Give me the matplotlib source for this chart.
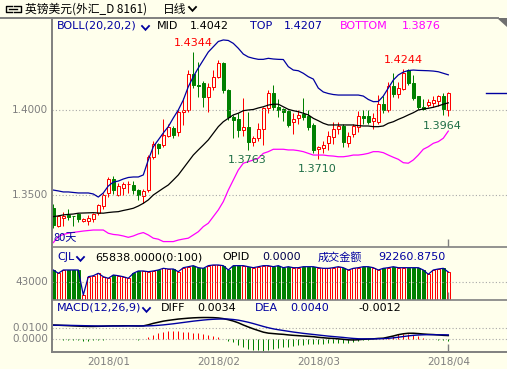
import matplotlib
matplotlib.use("Agg")
import matplotlib.pyplot as plt
from matplotlib.patches import Rectangle, Polygon
from matplotlib.lines import Line2D
import matplotlib.transforms as mtrans
import numpy as np

# ---------------- data ----------------
opens = [1.3422, 1.3318, 1.3362, 1.3385, 1.3375, 1.3388, 1.3350, 1.3350, 1.3358, 1.3392,
         1.3437, 1.3510, 1.3592, 1.3500, 1.3543, 1.3562, 1.3558, 1.3530, 1.3495, 1.3529,
         1.3725, 1.3800, 1.3794, 1.3850, 1.3896, 1.3872, 1.3986, 1.4000, 1.4212, 1.4150,
         1.4157, 1.4078, 1.4137, 1.4196, 1.4275, 1.4118, 1.3961, 1.3950, 1.3882, 1.3902,
         1.3814, 1.3834, 1.3886, 1.4010, 1.4098, 1.4020, 1.4004, 1.3994, 1.3928, 1.3951,
         1.3975, 1.3965, 1.3912, 1.3772, 1.3775, 1.3804, 1.3843, 1.3886, 1.3906, 1.3808,
         1.3859, 1.3902, 1.3965, 1.3965, 1.3937, 1.3930, 1.4035, 1.4000, 1.4141, 1.4094,
         1.4125, 1.4235, 1.4157, 1.4082, 1.4015, 1.4030, 1.4040, 1.4055, 1.4082, 1.4002]
highs = [1.3447, 1.3385, 1.3400, 1.3420, 1.3378, 1.3395, 1.3365, 1.3380, 1.3395, 1.3450,
         1.3510, 1.3605, 1.3610, 1.3570, 1.3575, 1.3580, 1.3580, 1.3535, 1.3535, 1.3735,
         1.3815, 1.3805, 1.3945, 1.3916, 1.3905, 1.4000, 1.4069, 1.4237, 1.4344, 1.4284,
         1.4170, 1.4160, 1.4235, 1.4295, 1.4280, 1.4125, 1.3970, 1.3980, 1.4069, 1.3990,
         1.3850, 1.3925, 1.4020, 1.4115, 1.4147, 1.4065, 1.4010, 1.4000, 1.3984, 1.4000,
         1.4069, 1.4000, 1.3925, 1.3786, 1.3818, 1.3876, 1.3931, 1.3930, 1.3915, 1.3870,
         1.3920, 1.3996, 1.4000, 1.4000, 1.3980, 1.4088, 1.4085, 1.4165, 1.4219, 1.4165,
         1.4244, 1.4243, 1.4206, 1.4085, 1.4063, 1.4065, 1.4080, 1.4090, 1.4102, 1.4106]
lows = [1.3304, 1.3312, 1.3318, 1.3355, 1.3318, 1.3340, 1.3342, 1.3325, 1.3340, 1.3385,
        1.3420, 1.3490, 1.3505, 1.3495, 1.3500, 1.3510, 1.3504, 1.3470, 1.3455, 1.3520,
        1.3710, 1.3741, 1.3780, 1.3840, 1.3835, 1.3850, 1.3912, 1.3990, 1.4128, 1.4078,
        1.4015, 1.3990, 1.4117, 1.4186, 1.4098, 1.3941, 1.3833, 1.3840, 1.3845, 1.3763,
        1.3790, 1.3818, 1.3794, 1.3984, 1.4000, 1.3957, 1.3937, 1.3902, 1.3859, 1.3920,
        1.3940, 1.3882, 1.3745, 1.3710, 1.3745, 1.3765, 1.3800, 1.3859, 1.3780, 1.3780,
        1.3840, 1.3872, 1.3918, 1.3920, 1.3886, 1.3920, 1.3980, 1.3990, 1.4078, 1.4070,
        1.4120, 1.4150, 1.4060, 1.4005, 1.4000, 1.4015, 1.4020, 1.4025, 1.3970, 1.3964]
closes = [1.3324, 1.3376, 1.3378, 1.3370, 1.3374, 1.3357, 1.3360, 1.3362, 1.3390, 1.3440,
          1.3500, 1.3594, 1.3529, 1.3553, 1.3563, 1.3567, 1.3529, 1.3500, 1.3522, 1.3725,
          1.3800, 1.3775, 1.3850, 1.3900, 1.3853, 1.3990, 1.4000, 1.4210, 1.4147, 1.4140,
          1.4078, 1.4137, 1.4196, 1.4275, 1.4118, 1.3961, 1.3940, 1.3882, 1.3898, 1.3814,
          1.3833, 1.3886, 1.4010, 1.4102, 1.4020, 1.4000, 1.3990, 1.3912, 1.3947, 1.3970,
          1.3961, 1.3902, 1.3765, 1.3782, 1.3794, 1.3847, 1.3886, 1.3906, 1.3814, 1.3847,
          1.3906, 1.3965, 1.3951, 1.3931, 1.3951, 1.4035, 1.4000, 1.4141, 1.4094, 1.4130,
          1.4215, 1.4160, 1.4069, 1.4016, 1.4008, 1.4049, 1.4059, 1.4082, 1.4004, 1.4098]

boll_top = [1.3529, 1.3524, 1.3518, 1.3518, 1.3515, 1.3512, 1.3512, 1.3512, 1.3506, 1.3488,
            1.3512, 1.3553, 1.3576, 1.3582, 1.3594, 1.3603, 1.3606, 1.3606, 1.3618, 1.3706,
            1.3784, 1.3824, 1.3865, 1.3902, 1.3953, 1.4000, 1.4059, 1.4137, 1.4196, 1.4247,
            1.4294, 1.4341, 1.4372, 1.4403, 1.4412, 1.4409, 1.4392, 1.4363, 1.4329, 1.4312,
            1.4304, 1.4298, 1.4298, 1.4304, 1.4300, 1.4298, 1.4297, 1.4255, 1.4235, 1.4231,
            1.4216, 1.4196, 1.4182, 1.4129, 1.4106, 1.4097, 1.4091, 1.4088, 1.4088, 1.4088,
            1.4088, 1.4088, 1.4082, 1.4062, 1.4049, 1.4050, 1.4082, 1.4129, 1.4176, 1.4206,
            1.4223, 1.4232, 1.4235, 1.4233, 1.4232, 1.4231, 1.4229, 1.4225, 1.4216, 1.4207]
boll_mid = [1.3373, 1.3377, 1.3383, 1.3386, 1.3388, 1.3393, 1.3394, 1.3395, 1.3396, 1.3394,
            1.3393, 1.3397, 1.3400, 1.3402, 1.3409, 1.3415, 1.3422, 1.3435, 1.3451, 1.3471,
            1.3500, 1.3520, 1.3540, 1.3559, 1.3588, 1.3618, 1.3657, 1.3696, 1.3735, 1.3765,
            1.3794, 1.3824, 1.3863, 1.3902, 1.3931, 1.3951, 1.3971, 1.3981, 1.3996, 1.4000,
            1.4003, 1.4012, 1.4019, 1.4029, 1.4034, 1.4034, 1.4019, 1.4004, 1.3996, 1.3990,
            1.3981, 1.3971, 1.3951, 1.3937, 1.3922, 1.3912, 1.3912, 1.3912, 1.3912, 1.3912,
            1.3912, 1.3908, 1.3906, 1.3906, 1.3902, 1.3902, 1.3906, 1.3922, 1.3931, 1.3945,
            1.3957, 1.3971, 1.3984, 1.4000, 1.4006, 1.4010, 1.4016, 1.4024, 1.4034, 1.4042]
boll_bot = [1.3220, 1.3255, 1.3268, 1.3275, 1.3280, 1.3284, 1.3288, 1.3291, 1.3294, 1.3294,
            1.3294, 1.3275, 1.3268, 1.3265, 1.3259, 1.3251, 1.3259, 1.3271, 1.3279, 1.3265,
            1.3246, 1.3240, 1.3226, 1.3226, 1.3226, 1.3235, 1.3241, 1.3246, 1.3265, 1.3284,
            1.3314, 1.3334, 1.3373, 1.3412, 1.3461, 1.3529, 1.3588, 1.3647, 1.3687, 1.3696,
            1.3706, 1.3716, 1.3745, 1.3755, 1.3769, 1.3769, 1.3769, 1.3765, 1.3765, 1.3761,
            1.3755, 1.3745, 1.3735, 1.3735, 1.3735, 1.3731, 1.3729, 1.3725, 1.3725, 1.3729,
            1.3735, 1.3735, 1.3739, 1.3745, 1.3755, 1.3755, 1.3749, 1.3735, 1.3722, 1.3710,
            1.3690, 1.3687, 1.3706, 1.3735, 1.3769, 1.3784, 1.3804, 1.3814, 1.3834, 1.3876]

volume = [70300, 63000, 70300, 70300, 70300, 70300, 14900, 55400, 57600, 63000,
          55400, 51900, 59200, 57600, 55400, 51900, 63000, 68100, 68100, 66500,
          68100, 70300, 74000, 72500, 72500, 66500, 75400, 77600, 79900, 75400,
          74000, 79900, 81400, 81400, 79900, 70300, 79900, 79900, 79900, 77600,
          75400, 77600, 79900, 79900, 77600, 79900, 75400, 77600, 75400, 75400,
          77600, 77600, 77600, 75400, 74000, 74000, 75400, 77600, 75400, 70300,
          74000, 75400, 77600, 77600, 75400, 70300, 74000, 75400, 77600, 75400,
          75400, 75400, 75400, 75400, 70300, 60800, 70300, 72500, 74000, 65838]

diff = [0.0130, 0.0128, 0.0126, 0.0124, 0.0122, 0.0120, 0.0118, 0.0117, 0.0117, 0.0118,
        0.0119, 0.0121, 0.0122, 0.0122, 0.0123, 0.0123, 0.0122, 0.0121, 0.0122, 0.0132,
        0.0145, 0.0155, 0.0165, 0.0172, 0.0178, 0.0184, 0.0188, 0.0192, 0.0195, 0.0197,
        0.0198, 0.0198, 0.0197, 0.0194, 0.0188, 0.0178, 0.0166, 0.0150, 0.0130, 0.0112,
        0.0095, 0.0080, 0.0065, 0.0056, 0.0052, 0.0048, 0.0045, 0.0040, 0.0036, 0.0033,
        0.0030, 0.0027, 0.0024, 0.0018, 0.0014, 0.0010, 0.0008, 0.0004, 0.0000, -0.0005,
        -0.0006, -0.0004, 0.0000, 0.0002, 0.0004, 0.0008, 0.0010, 0.0020, 0.0030, 0.0042,
        0.0050, 0.0055, 0.0055, 0.0052, 0.0048, 0.0045, 0.0043, 0.0040, 0.0036, 0.0034]
dea = [0.0128, 0.0128, 0.0127, 0.0127, 0.0126, 0.0125, 0.0124, 0.0123, 0.0122, 0.0121,
       0.0121, 0.0121, 0.0121, 0.0121, 0.0121, 0.0122, 0.0122, 0.0122, 0.0122, 0.0122,
       0.0124, 0.0127, 0.0131, 0.0136, 0.0141, 0.0147, 0.0153, 0.0159, 0.0165, 0.0170,
       0.0175, 0.0179, 0.0182, 0.0184, 0.0185, 0.0184, 0.0180, 0.0174, 0.0165, 0.0155,
       0.0143, 0.0130, 0.0117, 0.0105, 0.0095, 0.0087, 0.0080, 0.0073, 0.0066, 0.0060,
       0.0054, 0.0049, 0.0044, 0.0039, 0.0034, 0.0029, 0.0025, 0.0021, 0.0017, 0.0012,
       0.0008, 0.0005, 0.0004, 0.0004, 0.0004, 0.0005, 0.0006, 0.0009, 0.0013, 0.0019,
       0.0025, 0.0031, 0.0036, 0.0039, 0.0041, 0.0042, 0.0042, 0.0041, 0.0041, 0.0040]

month_ticks = [11, 33, 53, 79]
month_labels = ["2018/01", "2018/02", "2018/03", "2018/04"]
price_ticks = [1.3500, 1.4000]
vol_ticks = [43000]
macd_ticks = [0.0000, 0.0100]
turnover = 92260.8750
opid = 0.0
title = "英镑美元(外汇_D 8161)"
period = "日线"
hi_marks = [28, 70]
lo_marks = [39, 53, 79]

# ---------------- style ----------------
W, H = 507, 369
BG = '#FFFFEC'
RED = '#FF0000'
GRN = '#008000'
NAVY = '#0000A0'
MAG = '#FF00FF'
GRAY = '#808080'
LBL = '#7F7F7F'
PX = 72.0 / 100.0

plt.rcParams['font.family'] = ['DejaVu Sans', 'Noto Sans CJK SC']
CJK = ['Noto Sans CJK SC', 'DejaVu Sans']

fig = plt.figure(figsize=(W / 100, H / 100), dpi=100, facecolor=BG)


def fx(x):
    return x / W


def fy(y):
    return 1 - y / H


def add_ax(x0, y0, x1, y1):
    ax = fig.add_axes([fx(x0), fy(y1), (x1 - x0) / W, (y1 - y0) / H])
    ax.set_facecolor(BG)
    ax.patch.set_alpha(0)
    for s in ax.spines.values():
        s.set_visible(False)
    ax.set_xticks([])
    ax.set_yticks([])
    return ax


def fline(xs, ys, **kw):
    fig.add_artist(Line2D([fx(v) for v in xs], [fy(v) for v in ys], **kw))


def ftext(x, y, s, **kw):
    kw.setdefault('va', 'center')
    kw.setdefault('ha', 'left')
    fig.text(fx(x), fy(y), s, **kw)


def chevron(x, y, color=NAVY):
    fline([x, x + 3.5, x + 7], [y - 2, y + 1.8, y - 2], color=color, lw=1.3, solid_joinstyle='miter')


n = len(closes)
idx = np.arange(n)
X0, X1 = 52, 507
xl = ((X0 - 53.3) / 5.0, (X1 - 53.3) / 5.0)

# main panel
axm = add_ax(X0, 18, X1, 247)
axm.set_xlim(*xl)
axm.set_ylim(1.4 - 137 / 1700, 1.4 + 92 / 1700)
for t in price_ticks:
    axm.axhline(t, color='#A8A8A8', lw=0.8, ls=(0, (1, 2)))

body_w = 0.62
for i in range(n):
    o, h, l, c = opens[i], highs[i], lows[i], closes[i]
    if c > o:
        col = RED
    elif c < o:
        col = GRN
    else:
        col = 'black'
    top, bot = max(o, c), min(o, c)
    axm.vlines(i, l, bot, color=col, lw=1.0 * PX)
    axm.vlines(i, top, h, color=col, lw=1.0 * PX)
    if c > o:
        axm.add_patch(Rectangle((i - body_w / 2, bot), body_w, top - bot,
                                facecolor=BG, edgecolor=RED, lw=1.0 * PX))
    elif c < o:
        axm.add_patch(Rectangle((i - body_w / 2, bot), body_w, top - bot,
                                facecolor=GRN, edgecolor=GRN, lw=1.0 * PX))
    else:
        axm.hlines(o, i - body_w / 2, i + body_w / 2, color='black', lw=1.0 * PX)

axm.plot(idx, boll_top, color=NAVY, lw=0.9)
axm.plot(idx, boll_mid, color='black', lw=0.9)
axm.plot(idx, boll_bot, color=MAG, lw=0.9)
axm.plot([86.5, xl[1]], [closes[-1], closes[-1]], color=NAVY, lw=1.0)

for i in hi_marks:
    axm.annotate(f"{highs[i]:.4f}", xy=(i, highs[i]), xytext=(0, 9 * PX), textcoords='offset points',
                 ha='center', va='center', fontsize=8, color=RED)
for i in lo_marks:
    dx = -6 if i == lo_marks[-1] else -1
    axm.annotate(f"{lows[i]:.4f}", xy=(i, lows[i]), xytext=(dx * PX, -9.5 * PX), textcoords='offset points',
                 ha='center', va='center', fontsize=8, color='#1E6E46')

# volume panel
axv = add_ax(X0, 247, X1, 300)
axv.set_xlim(*xl)
axv.set_ylim(3770, 121290)
for t in vol_ticks:
    axv.axhline(t, color='#A8A8A8', lw=0.8, ls=(0, (1, 2)))
for i in range(n):
    up = closes[i] >= opens[i]
    if up:
        axv.add_patch(Rectangle((i - body_w / 2, 0), body_w, volume[i], facecolor=BG, edgecolor=RED, lw=1.0 * PX))
    else:
        axv.add_patch(Rectangle((i - body_w / 2, 0), body_w, volume[i], facecolor=GRN, edgecolor=GRN, lw=1.0 * PX))
axv.plot(idx, volume, color=NAVY, lw=0.9)

# macd panel
axd = add_ax(X0, 300, X1, 352)
axd.set_xlim(*xl)
axd.set_ylim(-12.7 / 1100, 39.3 / 1100)
for t in macd_ticks:
    axd.axhline(t, color='#A8A8A8', lw=0.8, ls=(0, (1, 2)))
macd = 2 * (np.array(diff) - np.array(dea))
for i in range(n):
    axd.vlines(i, 0, macd[i], color=RED if macd[i] > 0 else GRN, lw=1.0 * PX)
axd.plot(idx, diff, color='black', lw=1.1)
axd.plot(idx, dea, color=NAVY, lw=1.0)

# y labels
for ax, ticks, fmt in [(axm, price_ticks, "{:.4f}"), (axv, vol_ticks, "{:.0f}"), (axd, macd_ticks, "{:.4f}")]:
    tr = mtrans.blended_transform_factory(fig.transFigure, ax.transData)
    for t in ticks:
        fig.text(fx(48), t, fmt.format(t), transform=tr, ha='right', va='center', fontsize=7.5, color=LBL)

# x labels and ticks
trx = mtrans.blended_transform_factory(axm.transData, fig.transFigure)
for t, s in zip(month_ticks, month_labels):
    fig.text(t, fy(362), s, transform=trx, ha='center', va='center', fontsize=7.5, color=LBL)
for ax, hpx in ((axm, 229), (axv, 53), (axd, 52)):
    ax.vlines(month_ticks[-1], 0, 8.0 / hpx, transform=mtrans.blended_transform_factory(ax.transData, ax.transAxes),
              color=GRAY, lw=1.0)

# frame
fline([0, 498], [17.7, 17.7], color=GRAY, lw=1.4)
fline([51.7, 51.7], [17.7, 352], color=GRAY, lw=1.4)
fline([51.7, W], [247, 247], color=GRAY, lw=1.2)
fline([51.7, W], [300, 300], color=GRAY, lw=1.2)
fline([51.7, W], [352, 352], color=GRAY, lw=1.4)
fig.add_artist(Polygon([[fx(497), fy(18)], [fx(507), fy(18)], [fx(507), fy(27)]], closed=True,
                       facecolor='#707070', edgecolor='none'))

# title bar
fline([12, 5.5, 5.5, 12], [6, 6, 12, 12], color='black', lw=1.0)
fline([14, 20.5, 20.5, 14], [6, 6, 12, 12], color='black', lw=1.0)
fline([9, 17], [9, 9], color='black', lw=1.0)
ftext(25, 9, title, fontsize=8.5, family=CJK, color='black')
ftext(163, 9, period, fontsize=8.5, family=CJK, color='black')
chevron(189, 9, color='black')

# headers
ftext(57, 26, "BOLL(20,20,2)", fontsize=8, color=NAVY)
chevron(142, 28)
ftext(157, 26, "MID", fontsize=8, color='black')
ftext(190, 26, f"{boll_mid[-1]:.4f}", fontsize=8, color='black')
ftext(250, 26, "TOP", fontsize=8, color=NAVY)
ftext(284, 26, f"{boll_top[-1]:.4f}", fontsize=8, color=NAVY)
ftext(340, 26, "BOTTOM", fontsize=8, color=MAG)
ftext(402, 26, f"{boll_bot[-1]:.4f}", fontsize=8, color=MAG)
ftext(53, 238, f"{n}天", fontsize=8, family=CJK, color=NAVY)

ftext(57, 257, "CJL", fontsize=8, color=NAVY)
chevron(77, 259)
ftext(95, 257, f"{volume[-1]:.4f}(0:100)", fontsize=8, color='black')
ftext(222, 257, "OPID", fontsize=8, color='black')
ftext(262, 257, f"{opid:.4f}", fontsize=8, color='#000050')
ftext(318, 257, "成交金额", fontsize=8, family=CJK, color=NAVY)
ftext(378, 257, f"{turnover:.4f}", fontsize=8, color=NAVY)

ftext(57, 308, "MACD(12,26,9)", fontsize=8, color=NAVY)
chevron(143, 310)
ftext(161, 308, "DIFF", fontsize=8, color='black')
ftext(197, 308, f"{diff[-1]:.4f}", fontsize=8, color='black')
ftext(255, 308, "DEA", fontsize=8, color=NAVY)
ftext(290, 308, f"{dea[-1]:.4f}", fontsize=8, color=NAVY)
ftext(358, 308, f"{macd[-1]:.4f}", fontsize=8, color='black')

fig.savefig("out.png", dpi=100, facecolor=BG)
